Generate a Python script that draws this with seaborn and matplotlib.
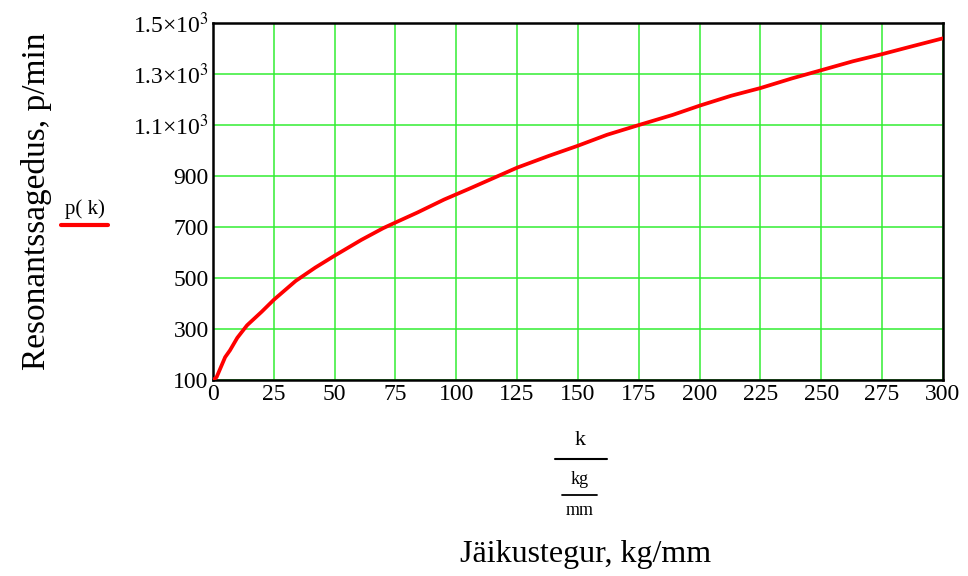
import matplotlib
matplotlib.use("Agg")
import matplotlib.pyplot as plt
from matplotlib.lines import Line2D
import seaborn as sns
import pandas as pd

# values
k_vals = [0, 1.5, 5, 7, 10, 14, 20, 25, 34, 42, 50, 61, 70, 75, 84, 95,
          105, 125, 138, 150, 162, 175, 189, 200, 213, 225, 238, 250,
          263, 275, 287, 300]
p_vals = [100, 112, 190, 217, 266, 315, 368, 415, 489, 541, 588, 650, 696,
          718, 757, 808, 849, 933, 979, 1019, 1062, 1100, 1140, 1176, 1215,
          1245, 1283, 1315, 1350, 1378, 1408, 1440]

x_ticks = list(range(0, 301, 25))
y_ticks = [100, 300, 500, 700, 900, 1100, 1300, 1500]
y_labels = ["100", "300", "500", "700", "900",
            "1.1×10$^3$", "1.3×10$^3$", "1.5×10$^3$"]

sns.set_style("white")
plt.rcParams['font.family'] = ['Liberation Serif', 'DejaVu Serif']
plt.rcParams['mathtext.fontset'] = 'stix'
plt.rcParams['text.color'] = 'black'
plt.rcParams['xtick.color'] = 'black'
plt.rcParams['ytick.color'] = 'black'
plt.rcParams['axes.labelcolor'] = 'black'

df = pd.DataFrame({"k": k_vals, "p": p_vals})

fig = plt.figure(figsize=(9.68, 5.76), dpi=100)
ax = fig.add_axes([0.22, 0.34, 0.754, 0.62])

sns.lineplot(data=df, x="k", y="p", color="#ff0000", linewidth=2.7, ax=ax, zorder=3)

ax.set_xlim(0, 300)
ax.set_ylim(100, 1500)
ax.set_xticks(x_ticks)
ax.set_yticks(y_ticks)
ax.set_yticklabels(y_labels)
ax.tick_params(length=0, labelsize=17, pad=3)
ax.grid(True, color="#33ee33", linewidth=1.1)
for s in ax.spines.values():
    s.set_color("black")
    s.set_linewidth(1.8)
ax.set_xlabel("")
ax.set_ylabel("Resonantssagedus, p/min", fontsize=24, labelpad=58)

# legend-like tag on the left
fig.text(0.088, 0.637, "p( k)", fontsize=15, ha="center", va="center")
fig.add_artist(Line2D([0.063, 0.112], [0.609, 0.609], color="#ff0000", lw=3,
                      solid_capstyle="round"))

# fraction under the x axis
fig.text(0.599, 0.235, "k", fontsize=16, ha="center", va="center")
fig.add_artist(Line2D([0.573, 0.627], [0.203, 0.203], color="black", lw=1.5))
fig.text(0.599, 0.168, "kg", fontsize=13, ha="center", va="center")
fig.add_artist(Line2D([0.581, 0.617], [0.141, 0.141], color="black", lw=1.3))
fig.text(0.599, 0.113, "mm", fontsize=13, ha="center", va="center")

fig.text(0.605, 0.037, "Jäikustegur, kg/mm", fontsize=23, ha="center", va="center")

fig.savefig("out.png", dpi=100)
